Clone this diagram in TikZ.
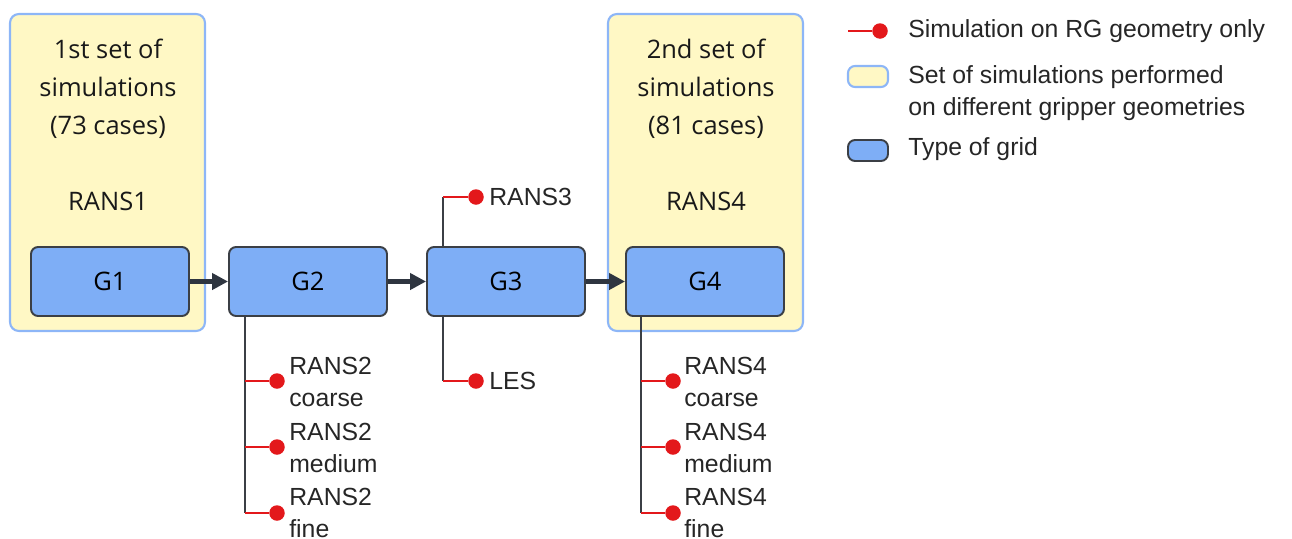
\documentclass[tikz,border=0pt]{standalone}
\usepackage{fontspec}
\setmainfont{Liberation Sans}
\newfontfamily\setfont{Open Sans}
\usetikzlibrary{arrows.meta}
\definecolor{setyellow}{HTML}{FFF8C5}
\definecolor{setblue}{HTML}{8DB6F7}
\definecolor{gridblue}{HTML}{7EAEF6}
\definecolor{gridedge}{HTML}{3B3F45}
\definecolor{flowdark}{HTML}{2E3540}
\definecolor{simred}{HTML}{E3181B}

\begin{document}
\begin{tikzpicture}[x=0.02cm, y=-0.02cm, font=\fontsize{14.1}{18.2}\selectfont,
  setbox/.style={draw=setblue, fill=setyellow, line width=1.2pt, rounded corners=5pt, minimum width=3.9cm, minimum height=6.34cm},
  gridbox/.style={draw=gridedge, fill=gridblue, line width=1.1pt, rounded corners=4pt, minimum width=3.16cm, minimum height=1.38cm, font=\setfont\fontsize{14.5}{18}\selectfont},
  settext/.style={align=center, font=\setfont\fontsize{14.5}{21.6}\selectfont, text=black!90},
  flow/.style={-{Triangle[length=9pt,width=9pt]}, line width=2.4pt, flowdark},
  trunk/.style={gridedge, line width=1.1pt},
  branch/.style={simred, line width=0.9pt},
  simdot/.style={circle, fill=simred, inner sep=0pt, minimum size=0.31cm},
  simlabel/.style={anchor=west, align=left, inner sep=0pt, text=black!85},
]
  \useasboundingbox (0,0) rectangle (1292,538);
  \node[setbox] (set1) at (107.5,172.5) {};
  \node[setbox] (set2) at (705.5,172.5) {};
  \node[settext] (title1) at (108,89) {1st set of\\simulations\\(73 cases)};
  \node[settext] (title2) at (706,89) {2nd set of\\simulations\\(81 cases)};
  \node[settext] (rans1) at (108,201) {RANS1};
  \node[settext] (rans4) at (706,201) {RANS4};
  \node[gridbox] (g1) at (110,281.5) {G1};
  \node[gridbox] (g2) at (308,281.5) {G2};
  \node[gridbox] (g3) at (506,281.5) {G3};
  \node[gridbox] (g4) at (705,281.5) {G4};
  \draw[flow] (g1) -- (g2);
  \draw[flow] (g2) -- (g3);
  \draw[flow] (g3) -- (g4);
  % G2 branches
  \coordinate (t2) at (245,513);
  \node[simdot] (r2c) at (277,381) {};
  \node[simdot] (r2m) at (277,447) {};
  \node[simdot] (r2f) at (277,513) {};
  \node[simlabel] at (289,382) {RANS2\\coarse};
  \node[simlabel] at (289,448) {RANS2\\medium};
  \node[simlabel] at (289,513) {RANS2\\fine};
  \draw[trunk] (g2.south -| t2) -- (t2);
  \draw[branch] (r2c -| t2) -- (r2c);
  \draw[branch] (r2m -| t2) -- (r2m);
  \draw[branch] (t2) -- (r2f);
  % G3 branches
  \coordinate (t3a) at (443,197);
  \coordinate (t3b) at (443,381);
  \node[simdot] (r3) at (476,197) {};
  \node[simdot] (les) at (476,381) {};
  \node[simlabel] at (489,197) {RANS3};
  \node[simlabel] at (489,381) {LES};
  \draw[trunk] (g3.north -| t3a) -- (t3a);
  \draw[trunk] (g3.south -| t3b) -- (t3b);
  \draw[branch] (t3a) -- (r3);
  \draw[branch] (t3b) -- (les);
  % G4 branches
  \coordinate (t4) at (641,513);
  \node[simdot] (r4c) at (673,381) {};
  \node[simdot] (r4m) at (673,447) {};
  \node[simdot] (r4f) at (673,513) {};
  \node[simlabel] at (684,382) {RANS4\\coarse};
  \node[simlabel] at (684,448) {RANS4\\medium};
  \node[simlabel] at (684,513) {RANS4\\fine};
  \draw[trunk] (g4.south -| t4) -- (t4);
  \draw[branch] (r4c -| t4) -- (r4c);
  \draw[branch] (r4m -| t4) -- (r4m);
  \draw[branch] (t4) -- (r4f);
  % legend
  \coordinate (legline) at (848,31);
  \node[simdot] (legdot) at (880,31) {};
  \draw[branch] (legline) -- (legdot);
  \node[simlabel] at (908,31) {Simulation on RG geometry only};
  \node[setbox, minimum width=0.8cm, minimum height=0.42cm, rounded corners=4pt] (legset) at (868,76.5) {};
  \node[simlabel] at (908,93) {Set of simulations performed\\on different gripper geometries};
  \node[gridbox, minimum width=0.8cm, minimum height=0.42cm] (leggrid) at (868,150.5) {};
  \node[simlabel] at (908,149) {Type of grid};
\end{tikzpicture}
\end{document}
